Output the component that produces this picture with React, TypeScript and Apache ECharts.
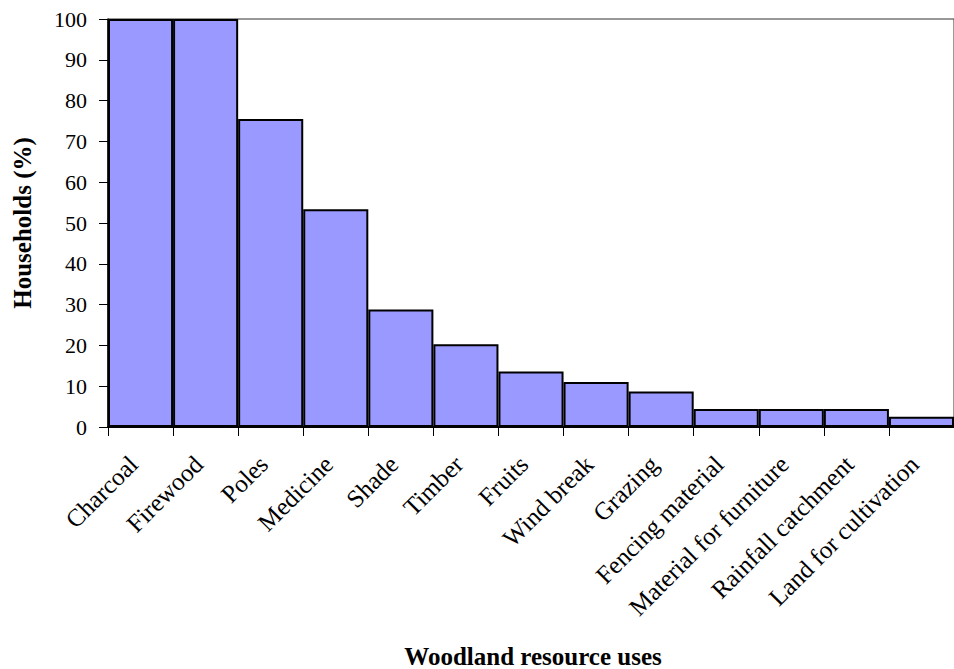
import React, { useEffect, useRef } from "react";
import * as echarts from "echarts";

// Share of households using each woodland resource
const categories = [
  "Charcoal",
  "Firewood",
  "Poles",
  "Medicine",
  "Shade",
  "Timber",
  "Fruits",
  "Wind break",
  "Grazing",
  "Fencing material",
  "Material for furniture",
  "Rainfall catchment",
  "Land for cultivation",
];
const households = [100, 100, 75.5, 53.4, 28.8, 20.3, 13.6, 11.0, 8.7, 4.4, 4.4, 4.4, 2.5];
const yTicks = [0, 10, 20, 30, 40, 50, 60, 70, 80, 90, 100];

const FONT = "'Liberation Serif', 'Times New Roman', serif";

export default function App() {
  const ref = useRef<HTMLDivElement>(null);

  useEffect(() => {
    if (!ref.current) return;
    const chart = echarts.init(ref.current, undefined, { renderer: "svg" });
    chart.setOption({
      animation: false,
      backgroundColor: "#ffffff",
      grid: {
        left: 108,
        top: 19,
        width: 853,
        height: 408,
        show: true,
        borderColor: "#333",
        borderWidth: 1,
        containLabel: false,
      },
      xAxis: {
        type: "category",
        data: categories,
        boundaryGap: true,
        axisLine: { show: true, lineStyle: { color: "#000", width: 2 } },
        axisTick: { show: true, alignWithLabel: false, length: 9, lineStyle: { color: "#000", width: 1 } },
        axisLabel: {
          interval: 0,
          rotate: 45,
          margin: 26,
          padding: [0, 10, 0, 0],
          color: "#000",
          fontFamily: FONT,
          fontSize: 25,
        },
        splitLine: { show: false },
      },
      yAxis: {
        type: "value",
        min: yTicks[0],
        max: yTicks[yTicks.length - 1],
        interval: 10,
        axisLine: { show: true, lineStyle: { color: "#000", width: 1.5 } },
        axisTick: { show: true, length: 9, lineStyle: { color: "#000", width: 1 } },
        axisLabel: {
          margin: 21,
          color: "#000",
          fontFamily: FONT,
          fontSize: 22,
        },
        splitLine: { show: false },
      },
      graphic: [
        {
          type: "text",
          x: 22,
          y: 223,
          rotation: Math.PI / 2,
          style: {
            text: "Households (%)",
            font: `bold 25px ${FONT}`,
            fill: "#000",
            align: "center",
            verticalAlign: "middle",
          },
        },
        {
          type: "text",
          x: 533,
          y: 656,
          style: {
            text: "Woodland resource uses",
            font: `bold 25px ${FONT}`,
            fill: "#000",
            align: "center",
            verticalAlign: "middle",
          },
        },
      ],
      series: [
        {
          type: "bar",
          data: households,
          barCategoryGap: "0%",
          itemStyle: {
            color: "#9999ff",
            borderColor: "#000",
            borderWidth: 2,
          },
        },
      ],
    });
    return () => chart.dispose();
  }, []);

  return (
    <div
      ref={ref}
      style={{ position: "fixed", left: 0, top: 0, width: 954, height: 669 }}
    />
  );
}
